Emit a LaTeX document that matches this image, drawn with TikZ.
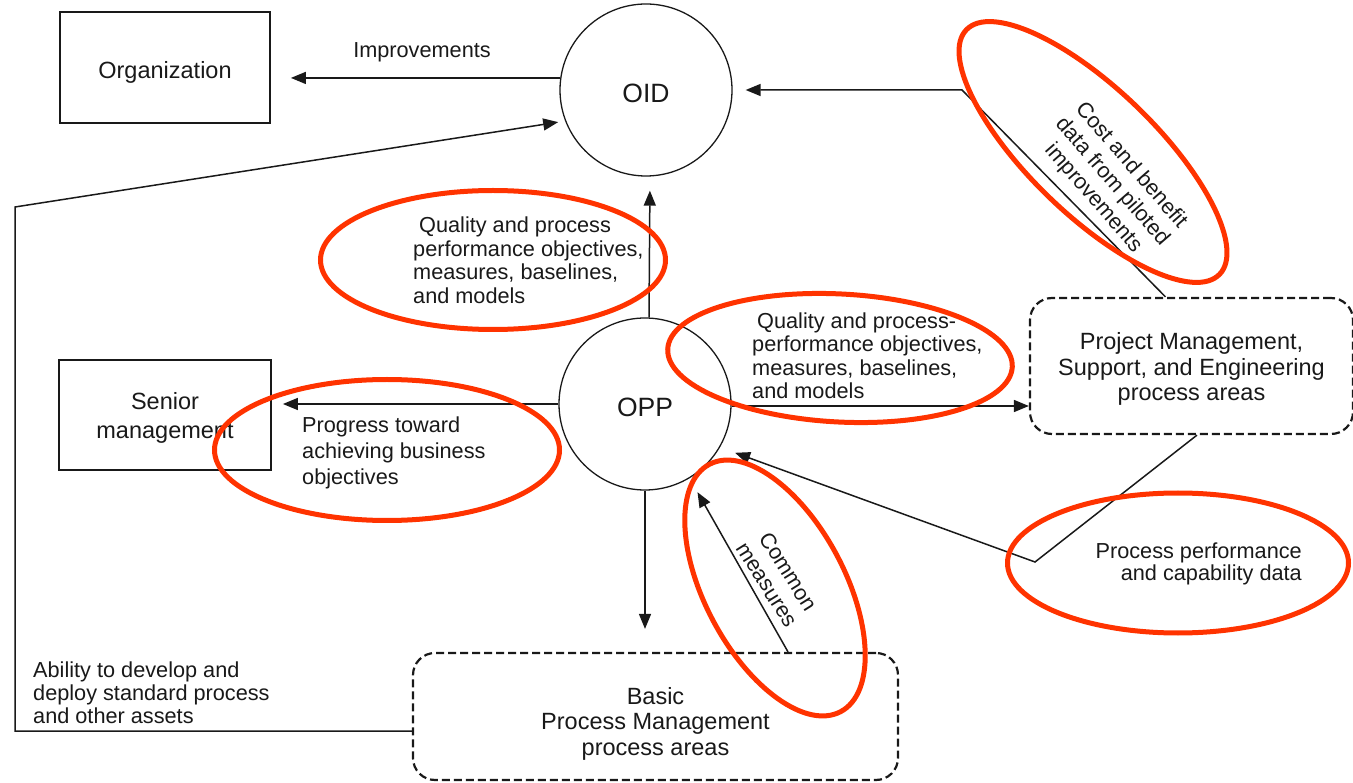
\documentclass[tikz,border=0pt]{standalone}
\usepackage{fontspec}
\setmainfont{Liberation Sans}
\usetikzlibrary{arrows.meta,shapes.geometric}
\definecolor{hilite}{RGB}{255,51,0}
\definecolor{ink}{RGB}{25,25,25}

\begin{document}
\begin{tikzpicture}[x=1pt,y=-1pt,
  lbl/.style={font=\fontsize{21.7}{23.5}\selectfont, inner sep=0pt, text=ink},
  boxtxt/.style={font=\fontsize{23.5}{25.5}\selectfont, align=center, text=ink, inner sep=0pt},
  solidbox/.style={draw=ink, line width=1.8pt, rectangle, inner sep=0pt},
  dashbox/.style={draw=ink, line width=2.2pt, dash pattern=on 8pt off 4pt,
                  rounded corners=22pt, rectangle, inner sep=0pt},
  proc/.style={draw=ink, line width=1.3pt, circle, inner sep=0pt,
               minimum size=172pt},
  proctxt/.style={font=\fontsize{26.5}{28}\selectfont, text=ink, inner sep=0pt},
  arr/.style={draw=ink, line width=1.5pt, -{Triangle[length=15pt,width=12pt]}},
  hl/.style={draw=hilite, line width=5pt, ellipse, inner sep=0pt}
]
\path[use as bounding box] (0,0) rectangle (1353,783);

% boxes and process circles
\node[solidbox, minimum width=210pt, minimum height=111pt] (org) at (165,67.5) {};
\node[solidbox, minimum width=212pt, minimum height=110pt] (sen) at (165,415) {};
\node[proc] (oid) at (646,90) {};
\node[proc] (opp) at (645,404) {};
\node[dashbox, minimum width=323pt, minimum height=136pt] (pm) at (1191.5,366) {};
\node[dashbox, minimum width=485pt, minimum height=127pt] (basic) at (655.5,716.5) {};

% their texts
\node[boxtxt] (orgtxt) at ([yshift=-5pt]org.center) {Organization};
\node[boxtxt, font=\fontsize{23.5}{29}\selectfont] (sentxt) at ([yshift=-3pt]sen.center) {Senior\\management};
\node[proctxt] (oidtxt) at ([yshift=-3pt]oid.center) {OID};
\node[proctxt] (opptxt) at ([yshift=-3pt]opp.center) {OPP};
\node[boxtxt] (pmtxt) at ([yshift=-3pt]pm.center)
  {Project Management,\\Support, and Engineering\\process areas};
\node[boxtxt] (basictxt) at ([yshift=-7pt]basic.center)
  {Basic\\Process Management\\process areas};

% bend points
\coordinate (cb) at (962,90);
\coordinate (a1) at (15,731);
\coordinate (a2) at (15,207);
\coordinate (pp) at (1035,562);

% connectors
\draw[arr] (oid.172) -- ([xshift=20pt]org.east |- oid.172);
\draw[arr, shorten >=13pt] ([xshift=-26pt]pm.north) -- (cb) -- (oid.east);
\draw[arr, shorten >=7pt] ([yshift=-14.5pt]basic.west) -- (a1) -- (a2) -- (oid.201);
\draw[arr, shorten >=14pt] ([xshift=4pt]opp.north) -- ([xshift=4pt]oid.south);
\draw[arr, shorten >=11pt] (opp.west) -- (sen.east |- opp.west);
\draw[arr] ([yshift=-2pt]opp.east) -- ([yshift=-2pt]pm.west |- opp.east);
\draw[arr, shorten >=23pt] (opp.south) -- (basic.north -| opp.south);
\draw[arr, shorten >=16pt] ([xshift=132.5pt]basic.north) -- (opp.-59);
\draw[arr, shorten >=16pt] ([xshift=5.5pt]pm.south) -- (pp) -- (opp.-30);

% labels
\node[lbl] (limp) at (422,52) {Improvements};
\node[lbl, align=left, anchor=west] (lq1) at (413,260)
  {\hspace{6pt}Quality and process\\performance objectives,\\measures, baselines,\\and models};
\node[lbl, align=left, anchor=west] (lq2) at (752,355.5)
  {\hspace{5pt}Quality and process-\\performance objectives,\\measures, baselines,\\and models};
\node[lbl, align=left, anchor=west, font=\fontsize{21.7}{26}\selectfont] (lprog) at (302,452.5)
  {Progress toward\\achieving business\\objectives};
\node[lbl, align=right, anchor=east, font=\fontsize{21.7}{22.5}\selectfont] (lpp) at (1302,564)
  {Process performance\\and capability data};
\node[lbl, align=left, anchor=west, font=\fontsize{21.7}{22.8}\selectfont] (labil) at (33,692.7)
  {Ability to develop and\\deploy standard process\\and other assets};
\node[lbl, align=center, rotate=-49, font=\fontsize{21.7}{25}\selectfont] (lcost) at (1112,182)
  {Cost and benefit\\data from piloted\\improvements};
\node[lbl, align=center, rotate=-58, font=\fontsize{21.7}{25}\selectfont] (lcom) at (778,578)
  {Common\\measures};

% highlight ellipses
\node[hl, minimum width=345pt, minimum height=139pt] (e1) at (493,260) {};
\node[hl, minimum width=345pt, minimum height=128pt, rotate=-3] (e2) at (840,358) {};
\node[hl, minimum width=345pt, minimum height=141pt] (e3) at (387,450) {};
\node[hl, minimum width=341pt, minimum height=140pt] (e4) at (1178,563) {};
\node[hl, minimum width=280pt, minimum height=140pt, rotate=-62] (e5) at (775,588) {};
\node[hl, minimum width=352pt, minimum height=126pt, rotate=-44] (e6) at (1093,152) {};
\end{tikzpicture}
\end{document}
